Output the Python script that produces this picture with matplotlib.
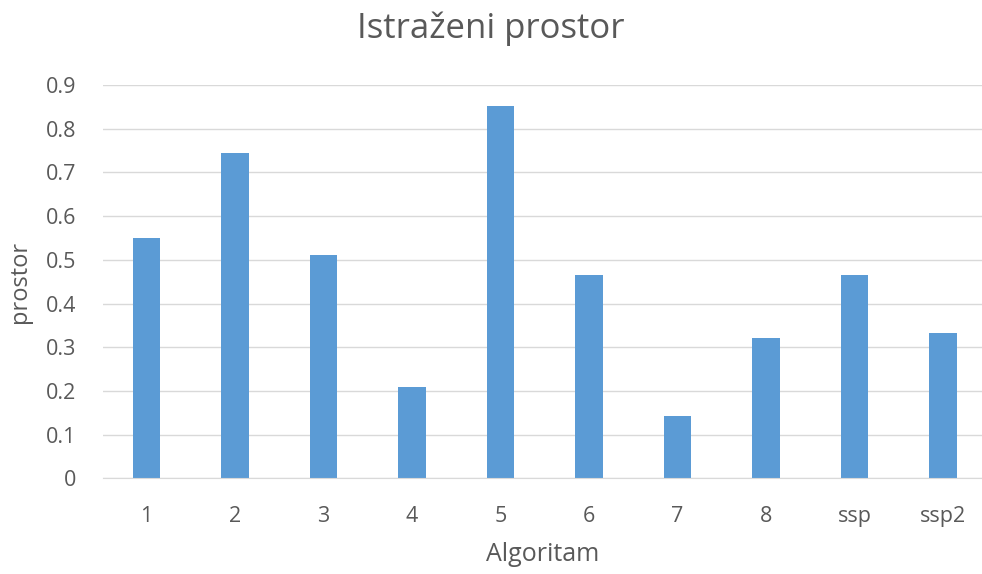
import matplotlib.pyplot as plt

# Podaci
algoritmi = ["1", "2", "3", "4", "5", "6", "7", "8", "ssp", "ssp2"]
prostor = [0.55, 0.745, 0.51, 0.21, 0.853, 0.466, 0.142, 0.322, 0.466, 0.333]
y_ticks = [0, 0.1, 0.2, 0.3, 0.4, 0.5, 0.6, 0.7, 0.8, 0.9]

BAR_COLOR = "#5B9BD5"
TEXT_COLOR = "#595959"
GRID_COLOR = "#D9D9D9"

plt.rcParams["font.family"] = ["Open Sans", "DejaVu Sans"]

fig = plt.figure(figsize=(9.82, 5.74), dpi=100)
ax = fig.add_axes([0.1049, 0.1667, 0.895, 0.6852])

x = list(range(len(algoritmi)))
ax.bar(x, prostor, width=0.31, color=BAR_COLOR, zorder=3)

ax.set_xlim(-0.49, 9.44)
ax.set_ylim(0, 0.9)
ax.set_yticks(y_ticks)
ax.set_yticklabels(["0" if t == 0 else f"{t:.1f}" for t in y_ticks])
ax.set_xticks(x)
ax.set_xticklabels(algoritmi)

ax.grid(axis="y", color=GRID_COLOR, linewidth=1, zorder=0)
for side in ["top", "right", "left"]:
    ax.spines[side].set_visible(False)
ax.spines["bottom"].set_color(GRID_COLOR)
ax.spines["bottom"].set_zorder(4)

ax.tick_params(axis="both", length=0, labelsize=15.5, colors=TEXT_COLOR)
ax.tick_params(axis="y", pad=19)
ax.tick_params(axis="x", pad=20)

ax.set_xlabel("Algoritam", fontsize=18, color=TEXT_COLOR, labelpad=11)
ax.set_ylabel("prostor", fontsize=17, color=TEXT_COLOR, labelpad=10)
fig.suptitle("Istraženi prostor", fontsize=25, color=TEXT_COLOR, x=0.5, y=0.98)

fig.savefig("out.png", dpi=100)
